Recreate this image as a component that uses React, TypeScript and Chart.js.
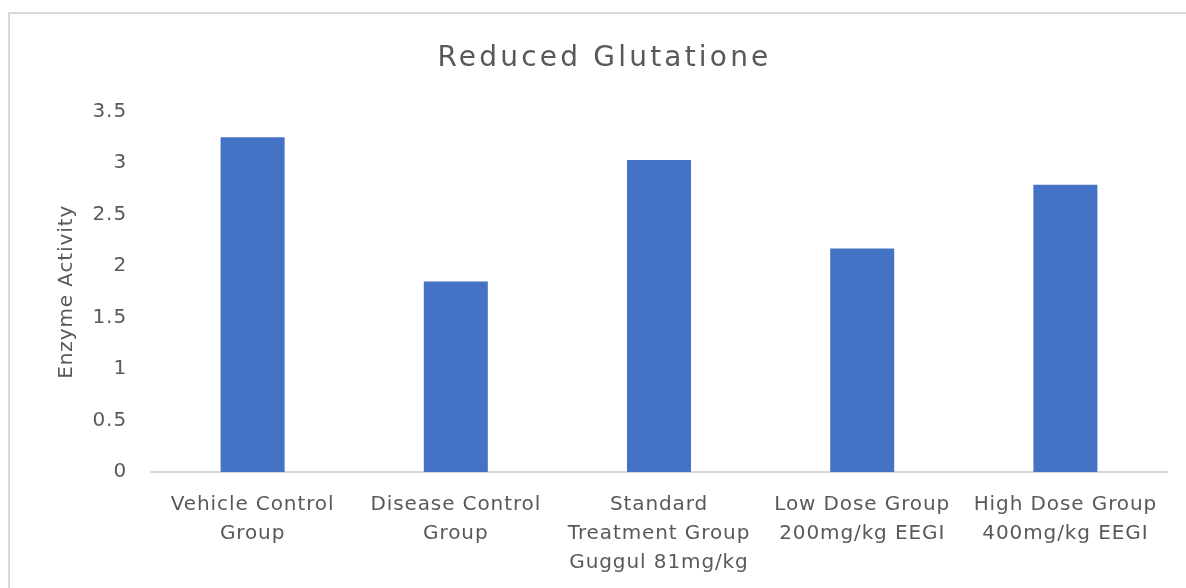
import React, { useEffect, useRef } from "react";
import { Chart, registerables } from "chart.js";

Chart.register(...registerables);

const categories: string[][] = [
  ["Vehicle Control", "Group"],
  ["Disease Control", "Group"],
  ["Standard", "Treatment Group", "Guggul 81mg/kg"],
  ["Low Dose Group", "200mg/kg EEGI"],
  ["High Dose Group", "400mg/kg EEGI"],
];
const enzymeActivity: number[] = [3.25, 1.85, 3.03, 2.17, 2.79];
const chartTitle = "Reduced Glutatione";
const yAxisTitle = "Enzyme Activity";
const yMin = 0;
const yMax = 3.5;
const yStep = 0.5;

const FONT = "'DejaVu Sans', sans-serif";
const TEXT = "#595959";
const AXIS_SPACING = "0.9px";
const TITLE_SPACING = "3.2px";

const spacingPlugin = {
  id: "spacing",
  afterInit(chart: any) {
    const tb = chart.titleBlock;
    if (tb && !tb.__patched) {
      const orig = tb.draw.bind(tb);
      tb.draw = () => {
        const ctx = chart.ctx as any;
        const prev = ctx.letterSpacing;
        ctx.letterSpacing = TITLE_SPACING;
        orig();
        ctx.letterSpacing = prev;
      };
      tb.__patched = true;
    }
  },
  beforeUpdate(chart: any) {
    (chart.ctx as any).letterSpacing = AXIS_SPACING;
  },
  beforeLayout(chart: any) {
    (chart.ctx as any).letterSpacing = AXIS_SPACING;
  },
  beforeDraw(chart: any) {
    const ctx = chart.ctx as any;
    ctx.letterSpacing = AXIS_SPACING;
    ctx.save();
    ctx.fillStyle = "#ffffff";
    ctx.fillRect(0, 0, chart.width, chart.height);
    ctx.strokeStyle = "#d9d9d9";
    ctx.lineWidth = 2;
    ctx.beginPath();
    ctx.moveTo(9, chart.height);
    ctx.lineTo(9, 13);
    ctx.lineTo(chart.width, 13);
    ctx.stroke();
    ctx.restore();
  },
};

export default function App() {
  const ref = useRef<HTMLCanvasElement | null>(null);
  useEffect(() => {
    document.body.style.margin = "0";
    const canvas = ref.current!;
    const chart = new Chart(canvas, {
      type: "bar",
      data: {
        labels: categories,
        datasets: [
          {
            label: yAxisTitle,
            data: enzymeActivity,
            backgroundColor: "#4472C4",
            categoryPercentage: 1,
            barPercentage: 0.315,
          },
        ],
      },
      options: {
        animation: false,
        responsive: false,
        maintainAspectRatio: false,
        layout: { padding: { left: 42, right: 19, top: 0, bottom: 0 } },
        plugins: {
          legend: { display: false },
          tooltip: { enabled: false },
          title: {
            display: true,
            text: chartTitle,
            color: TEXT,
            font: { family: FONT, size: 28, weight: "normal" },
            padding: { top: 42, bottom: 36 },
          },
        },
        scales: {
          x: {
            grid: { display: false, drawTicks: false },
            border: { display: true, color: "#d9d9d9", width: 2 },
            ticks: {
              color: TEXT,
              font: { family: FONT, size: 20, lineHeight: 1.45 },
              padding: 18,
              maxRotation: 0,
              autoSkip: false,
            },
            afterFit: (s: any) => {
              s.height = 116;
            },
          },
          y: {
            min: yMin,
            max: yMax,
            grid: { display: false, drawTicks: false },
            border: { display: false },
            ticks: {
              stepSize: yStep,
              color: TEXT,
              font: { family: FONT, size: 20 },
              padding: 24,
              callback: (v: any) => String(v),
            },
            title: {
              display: true,
              text: yAxisTitle,
              color: TEXT,
              font: { family: FONT, size: 20 },
              padding: { top: 13, bottom: 0 },
            },
            afterFit: (s: any) => {
              s.width = 109;
            },
          },
        },
      },
      plugins: [spacingPlugin],
    });
    return () => chart.destroy();
  }, []);
  return <canvas ref={ref} width={1186} height={588} style={{ display: "block" }} />;
}
